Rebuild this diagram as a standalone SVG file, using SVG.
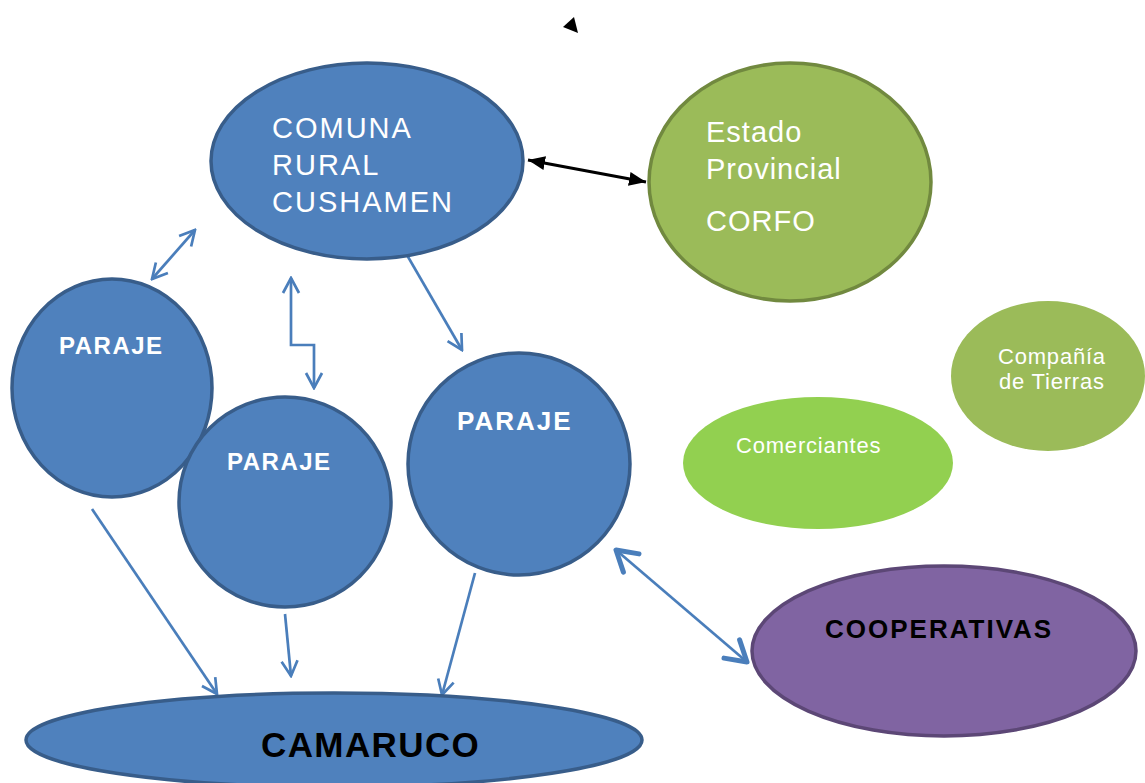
<svg xmlns="http://www.w3.org/2000/svg" width="1145" height="783" viewBox="0 0 1145 783">
<style>
.blue{fill:#4f81bd;stroke:#385d8a;stroke-width:3.5}
.wt{fill:#fff;font-family:"Liberation Sans",Arial,sans-serif}
.wb{fill:#fff;font-family:"Liberation Sans",Arial,sans-serif;font-weight:bold}
.bk{fill:#000;font-family:"Liberation Sans",Arial,sans-serif;font-weight:bold}
.con{fill:none;stroke:#4a7ebb;stroke-width:2.7}
</style>
<defs>
<marker id="v" markerUnits="userSpaceOnUse" viewBox="0 0 22 22" refX="20" refY="11" markerWidth="22" markerHeight="22" orient="auto-start-reverse">
<path d="M5,3 L20,11 L5,19" fill="none" stroke="#4a7ebb" stroke-width="2.7"/>
</marker>
<marker id="vt" markerUnits="userSpaceOnUse" viewBox="0 0 30 30" refX="27" refY="15" markerWidth="30" markerHeight="30" orient="auto-start-reverse">
<path d="M7,3 L27,15 L7,27" fill="none" stroke="#4a7ebb" stroke-width="5" stroke-linecap="round" stroke-linejoin="round"/>
</marker>
<marker id="t" markerUnits="userSpaceOnUse" viewBox="0 0 18 18" refX="17" refY="9" markerWidth="18" markerHeight="18" orient="auto-start-reverse">
<path d="M0,2 L17,9 L0,16 Z" fill="#000"/>
</marker>
</defs>
<rect width="1145" height="783" fill="#fff"/>
<g id="connectors">
<line x1="528" y1="160" x2="646" y2="182" stroke="#000" stroke-width="3" marker-start="url(#t)" marker-end="url(#t)"/>
<polygon points="563,27 574,17 578,33" fill="#000"/>
<line class="con" x1="195" y1="230" x2="152" y2="279" marker-start="url(#v)" marker-end="url(#v)"/>
<polyline class="con" points="291,278 291,345 314,345 314,388" marker-start="url(#v)" marker-end="url(#v)"/>
<line class="con" x1="400" y1="243" x2="462" y2="350" marker-end="url(#v)"/>
<line class="con" x1="616" y1="550" x2="747" y2="662" stroke-width="5" marker-start="url(#vt)" marker-end="url(#vt)"/>
<line class="con" x1="92" y1="509" x2="217" y2="694" marker-end="url(#v)"/>
<line class="con" x1="285" y1="614" x2="291" y2="676" marker-end="url(#v)"/>
<line class="con" x1="475" y1="573" x2="442" y2="695" marker-end="url(#v)"/>
</g>
<g id="comuna">
<ellipse class="blue" cx="367" cy="161" rx="156" ry="98"/>
<g class="wt" font-size="29" letter-spacing="2">
<text x="272" y="138">COMUNA</text>
<text x="272" y="175">RURAL</text>
<text x="272" y="212">CUSHAMEN</text>
</g>
</g>
<g id="estado">
<ellipse cx="790" cy="182" rx="141" ry="119" fill="#9bbb59" stroke="#71893f" stroke-width="3.5"/>
<g class="wt" font-size="29" letter-spacing="1">
<text x="706" y="142">Estado</text>
<text x="706" y="179">Provincial</text>
<text x="706" y="231">CORFO</text>
</g>
</g>
<g id="compania">
<ellipse cx="1048" cy="376" rx="97" ry="75" fill="#9bbb59"/>
<g class="wt" font-size="22" letter-spacing="0.8">
<text x="998" y="364">Compañía</text>
<text x="999" y="389">de Tierras</text>
</g>
</g>
<g id="comerciantes">
<ellipse cx="818" cy="463" rx="135" ry="66" fill="#92d050"/>
<text class="wt" font-size="22" letter-spacing="0.8" x="736" y="453">Comerciantes</text>
</g>
<g id="paraje1">
<ellipse class="blue" cx="112" cy="388" rx="100" ry="109"/>
<text class="wb" font-size="24" letter-spacing="1.5" x="59" y="354">PARAJE</text>
</g>
<g id="paraje2">
<ellipse class="blue" cx="285" cy="502" rx="106" ry="105"/>
<text class="wb" font-size="24" letter-spacing="1.5" x="227" y="470">PARAJE</text>
</g>
<g id="paraje3">
<ellipse class="blue" cx="519" cy="464" rx="111" ry="111"/>
<text class="wb" font-size="26" letter-spacing="2" x="457" y="430">PARAJE</text>
</g>
<g id="cooperativas">
<ellipse cx="944" cy="651" rx="192" ry="85" fill="#8064a2" stroke="#5c4776" stroke-width="3.5"/>
<text class="bk" font-size="26" letter-spacing="2" x="825" y="638">COOPERATIVAS</text>
</g>
<g id="camaruco">
<ellipse class="blue" cx="334" cy="740" rx="308" ry="47"/>
<text class="bk" font-size="35" letter-spacing="1.4" x="261" y="757">CAMARUCO</text>
</g>
</svg>
